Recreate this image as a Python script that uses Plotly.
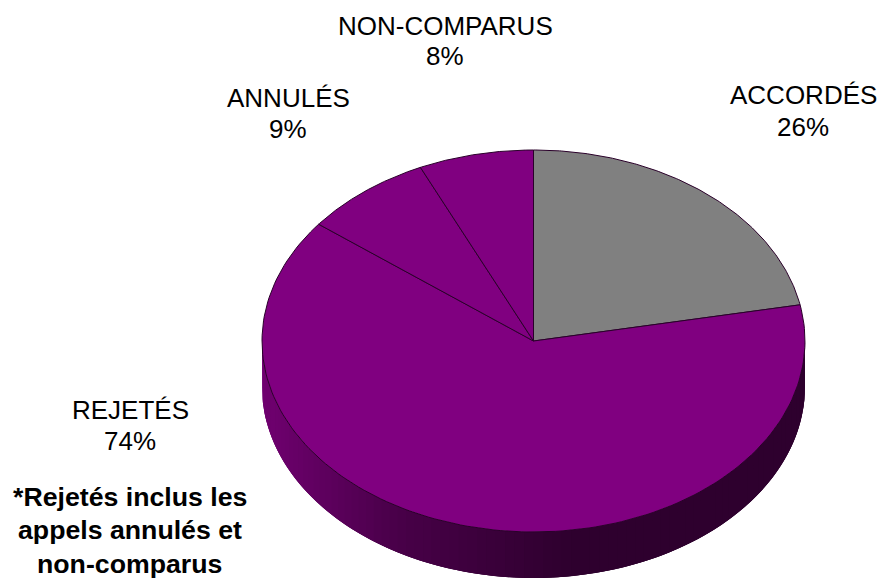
import numpy as np
import plotly.graph_objects as go

categories = ["ACCORDÉS", "REJETÉS", "ANNULÉS", "NON-COMPARUS"]
percent_labels = [26, 74, 9, 8]
slice_values = [25.7, 74.3, 9, 8]
slice_colors = ["#808080", "#800080", "#800080", "#800080"]
note_lines = ["*Rejetés inclus les", "appels annulés et", "non-comparus"]

W, H = 886, 579
CX, CY, RX, RY, DEPTH = 533.5, 341, 271.5, 191, 46
OUTLINE = "#2a002a"


def ell(theta, dy=0.0):
    return CX + RX * np.sin(theta), CY + dy - RY * np.cos(theta)


def side_color(x):
    stops_x = [262, 400, 530, 570, 805]
    r = np.interp(x, stops_x, [112, 72, 52, 46, 46])
    return f"rgb({r:.0f},0,{r:.0f})"


fig = go.Figure()

# extruded rim: overlapping bands, painted right to left so no seams show
edges = np.linspace(np.pi / 2, 3 * np.pi / 2, 91)
step = edges[1] - edges[0]
for a in edges[:-1]:
    t = np.linspace(a, min(a + 3 * step, edges[-1]), 6)
    xt, yt = ell(t)
    xb, yb = ell(t[::-1], DEPTH)
    col = side_color(ell(a + step / 2)[0])
    fig.add_trace(go.Scatter(
        x=np.r_[xt, xb], y=np.r_[yt, yb], mode="lines", fill="toself",
        fillcolor=col, line=dict(width=0), hoverinfo="skip", showlegend=False))

# top face slices
total = sum(slice_values)
start = 0.0
for name, v, p, c in zip(categories, slice_values, percent_labels, slice_colors):
    end = start + v / total * 2 * np.pi
    t = np.linspace(start, end, 160)
    xs, ys = ell(t)
    fig.add_trace(go.Scatter(
        x=np.r_[CX, xs, CX], y=np.r_[CY, ys, CY], mode="lines", fill="toself",
        fillcolor=c, line=dict(color=OUTLINE, width=1), name=name, showlegend=False,
        hovertemplate=f"{name}: {p}%<extra></extra>"))
    start = end

# label rows: category line then percentage line
label_pos = {
    "ACCORDÉS": (803, 95, 127),
    "REJETÉS": (130, 410, 441),
    "ANNULÉS": (288, 98, 129),
    "NON-COMPARUS": (445, 26, 56),
}
anns = []
for name, p in zip(categories, percent_labels):
    x, y1, y2 = label_pos[name]
    for text, y in ((name, y1), (f"{p}%", y2)):
        anns.append(dict(x=x, y=y, text=text, showarrow=False, xanchor="center", yanchor="middle",
                         font=dict(family="Liberation Sans", size=26, color="#000000")))
for text, y in zip(note_lines, (497, 530, 564)):
    anns.append(dict(x=129.5, y=y, text=f"<b>{text}</b>", showarrow=False, xanchor="center", yanchor="middle",
                     font=dict(family="Liberation Sans", size=26.7, color="#000000")))

fig.update_layout(
    width=W, height=H, margin=dict(l=0, r=0, t=0, b=0),
    paper_bgcolor="white", plot_bgcolor="white", showlegend=False, annotations=anns,
    xaxis=dict(range=[0, W], visible=False, fixedrange=True),
    yaxis=dict(range=[H, 0], visible=False, fixedrange=True),
)
fig.write_html("out.html", config=dict(displayModeBar=False),
               post_script="document.body.style.margin='0';document.body.style.overflow='hidden';")
